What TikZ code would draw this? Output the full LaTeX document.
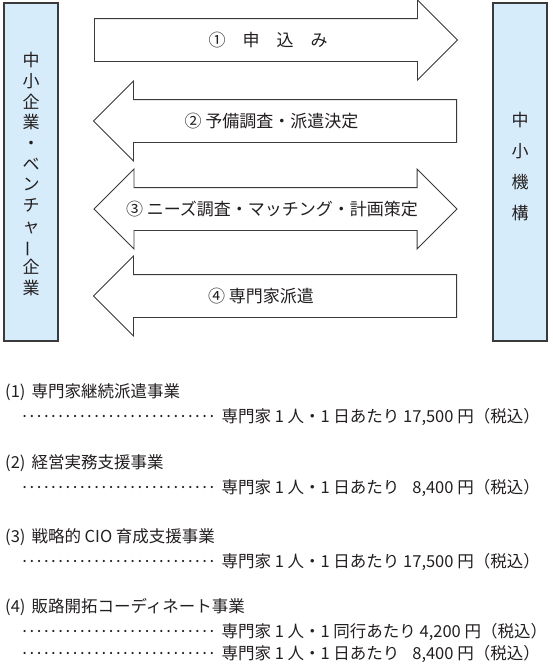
\documentclass[tikz,border=0pt]{standalone}
\usepackage{fontspec}
\setmainfont{Noto Sans CJK JP}
\usetikzlibrary{shapes.arrows, positioning}
\definecolor{sideBlue}{HTML}{D7ECFA}
\definecolor{lineDark}{HTML}{3A3A3A}
\definecolor{textDark}{HTML}{231F20}
\newcommand{\leaderdots}{\leaders\hbox to 7.2pt{\hss·\hss}\hskip 194.4pt}
\tikzset{
  sideBox/.style={rectangle, draw=lineDark, line width=1.1pt, fill=sideBlue,
                  minimum width=54pt, minimum height=338pt, inner sep=0pt},
  sideText/.style={align=center, text=textDark, inner sep=0pt},
  flowArrow/.style={draw=lineDark, line width=0.9pt, fill=white,
                    minimum height=363pt, minimum width=79pt,
                    inner xsep=0pt, inner ysep=21pt, text height=0pt, text depth=0pt},
  arrowOne/.style={flowArrow, single arrow, single arrow head extend=18.5pt},
  arrowTwo/.style={flowArrow, double arrow, double arrow head extend=18.5pt},
  flowText/.style={font=\fontsize{17}{20}\selectfont, text=textDark, inner sep=0pt},
  itemText/.style={font=\fontsize{16.5}{19}\selectfont, text=textDark, anchor=west, inner sep=0pt},
}
\begin{document}
\begin{tikzpicture}[x=1pt, y=-1pt]
  \useasboundingbox (0,0) rectangle (552,672);
  \node[sideBox] (lb) at (31,172) {};
  \node[sideBox] (rb) at (520,172) {};
  \node[sideText, font=\fontsize{17}{20.7}\selectfont] (lt) at (31,174)
    {中\\小\\企\\業\\・\\ベ\\ン\\チ\\ャ\\\rotatebox[origin=c]{90}{ー}\\企\\業};
  \node[sideText, font=\fontsize{17}{31}\selectfont] (rt) at (520,167) {中\\小\\機\\構};

  \node[arrowOne, anchor=tail] (a1) at (94,40) {};
  \node[arrowOne, shape border rotate=180, anchor=tail] (a2) at (457,121) {};
  \node[arrowTwo] (a3) at (275.5,209) {};
  \node[arrowOne, shape border rotate=180, anchor=tail] (a4) at (457,296) {};
  \node[flowText] (t1) at (268,40) {①　申　込　み};
  \node[flowText] (t2) at (271.5,121) {② 予備調査・派遣決定};
  \node[flowText] (t3) at (272,209) {③ ニーズ調査・マッチング・計画策定};
  \node[flowText] (t4) at (261,296) {④ 専門家派遣};

  \node[itemText] (h1) at (5,392) {(1)\hspace{6pt}専門家継続派遣事業};
  \node[itemText] (p1) at (21,417) {\leaderdots\hspace{6pt}専門家 1 人・1 日あたり 17,500 円（税込）};
  \node[itemText] (h2) at (5,463) {(2)\hspace{6pt}経営実務支援事業};
  \node[itemText] (p2) at (21,488) {\leaderdots\hspace{6pt}専門家 1 人・1 日あたり \phantom{1}8,400 円（税込）};
  \node[itemText] (h3) at (5,537) {(3)\hspace{6pt}戦略的 CIO 育成支援事業};
  \node[itemText] (p3) at (21,562) {\leaderdots\hspace{6pt}専門家 1 人・1 日あたり 17,500 円（税込）};
  \node[itemText] (h4) at (5,607) {(4)\hspace{6pt}販路開拓コーディネート事業};
  \node[itemText] (p4) at (21,632) {\leaderdots\hspace{6pt}専門家 1 人・1 同行あたり 4,200 円（税込）};
  \node[itemText] (p5) at (21,654) {\leaderdots\hspace{6pt}専門家 1 人・1 日あたり \phantom{1}8,400 円（税込）};
\end{tikzpicture}
\end{document}
